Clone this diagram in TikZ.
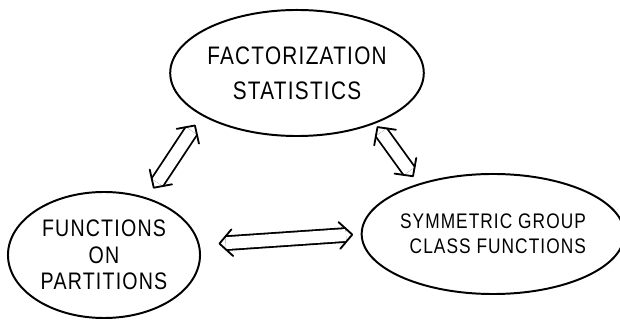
\documentclass[tikz,border=0pt]{standalone}
\usepackage{fontspec}
\setmainfont[FakeStretch=0.82, LetterSpace=5]{Liberation Sans}
\usepackage{tikz}
\usetikzlibrary{shapes.geometric, arrows.meta, positioning, calc}

% hollow two-headed link: from, to, gap at start, gap at end
\newcommand{\twolink}[4]{%
    \coordinate (s) at ($(#1)!#3!(#2)$);
    \coordinate (e) at ($(#2)!#4!(#1)$);
    \draw[shaft] ($(s)!4.5pt!(e)$) -- ($(e)!4.5pt!(s)$);
    \draw[head] ($(s)!13.2pt!46:(e)$) -- (s) -- ($(s)!13.2pt!-46:(e)$);
    \draw[head] ($(e)!13.2pt!46:(s)$) -- (e) -- ($(e)!13.2pt!-46:(s)$);
}

\begin{document}
\begin{tikzpicture}[
    x=0.025cm, y=-0.025cm,
    blob/.style={ellipse, draw, line width=1.4pt, inner sep=0pt, align=center},
    shaft/.style={double, double distance=8.5pt, line width=1.3pt},
    head/.style={line width=1.3pt, line cap=round, line join=round}
]
\useasboundingbox (0,0) rectangle (620,321);
% the three topics
\node[blob, minimum width=6cm, minimum height=3.15cm, font=\fontsize{18}{25}\selectfont] (fact) at (297,73) {
    FACTORIZATION\\
    STATISTICS
};
\node[blob, minimum width=4.8cm, minimum height=3.15cm, font=\fontsize{17}{19}\selectfont] (parts) at (104,255) {
    FUNCTIONS\\
    ON\\
    PARTITIONS
};
\node[blob, minimum width=6.25cm, minimum height=3cm, align=right, font=\fontsize{15}{18}\selectfont] (sym) at (493,234) {
    SYMMETRIC GROUP\\
    CLASS FUNCTIONS
};
% links between them
\twolink{fact.204}{parts.53}{8.5pt}{8.5pt}
\twolink{fact.327}{sym.146}{3pt}{6.5pt}
\twolink{parts.6}{sym.180}{14pt}{6pt}
\end{tikzpicture}
\end{document}
